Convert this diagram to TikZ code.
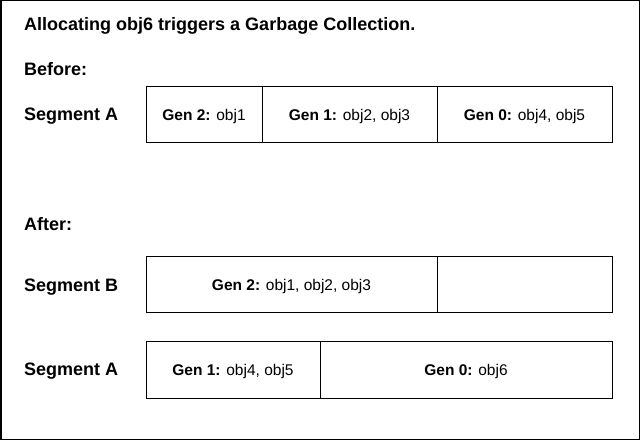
\documentclass[tikz,border=0pt]{standalone}
\usepackage{fontspec}
\setmainfont{Liberation Sans}
\begin{document}
\begin{tikzpicture}[x=1pt,y=-1pt,
  heading/.style={anchor=base west,inner sep=0pt,font=\fontsize{18}{21}\selectfont\bfseries},
  cell/.style={draw,line width=0.9pt,inner sep=0pt,text height=12.5pt,text depth=0pt,
    font=\fontsize{15.5}{18}\selectfont},
  frame/.style={draw,line width=1.5pt}]
\useasboundingbox (0,0) rectangle (641,441);
% outer frame
\draw[frame] (0.75,0.75) rectangle (639.5,439.5);

% headings
\node[heading] (title) at (24,31) {Allocating obj6 triggers a Garbage Collection.};
\node[heading] (before) at (24,76) {Before:};
\node[heading] (segA1) at (24,121) {Segment A};
\node[heading] (after) at (24,231) {After:};
\node[heading] (segB) at (24,291) {Segment B};
\node[heading] (segA2) at (24,376) {Segment A};

% segment A before collection
\node[cell,minimum width=116pt,minimum height=56pt] (a1) at (204,114) {\textbf{Gen 2:} obj1};
\node[cell,minimum width=175pt,minimum height=56pt] (a2) at (349.5,114) {\textbf{Gen 1:} obj2, obj3};
\node[cell,minimum width=175pt,minimum height=56pt] (a3) at (524.5,114) {\textbf{Gen 0:} obj4, obj5};

% segment B after collection
\node[cell,minimum width=291pt,minimum height=56pt] (b1) at (291.5,284) {\textbf{Gen 2:} obj1, obj2, obj3};
\node[cell,minimum width=175pt,minimum height=56pt] (b2) at (524.5,284) {};

% segment A after collection
\node[cell,minimum width=174pt,minimum height=57pt] (c1) at (233,369.5) {\textbf{Gen 1:} obj4, obj5};
\node[cell,minimum width=292pt,minimum height=57pt] (c2) at (466,369.5) {\textbf{Gen 0:} obj6};
\end{tikzpicture}
\end{document}
